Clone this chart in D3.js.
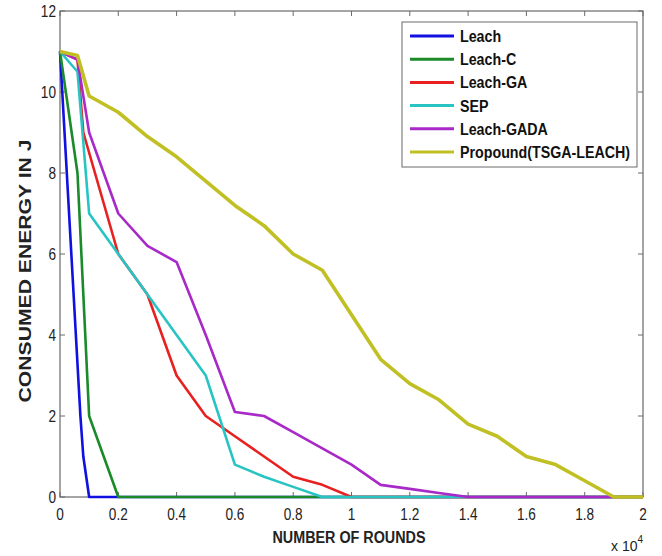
<!DOCTYPE html>
<html>
<head>
<meta charset="utf-8">
<script src="https://cdn.jsdelivr.net/npm/d3@7/dist/d3.min.js"></script>
<style>
  body { margin: 0; background: #fff; }
  svg { display: block; font-family: "Liberation Sans", Arial, sans-serif; }
</style>
</head>
<body>
<svg id="chart" width="662" height="556"></svg>
<script>
// ── Data (rounds in units of 1e4, energy in J) ────────────────────────────
const xTicks = [0, 0.2, 0.4, 0.6, 0.8, 1, 1.2, 1.4, 1.6, 1.8, 2];
const yTicks = [0, 2, 4, 6, 8, 10, 12];

const leach     = [[0,11],[0.07,2],[0.08,1],[0.1,0],[2,0]];
const leachC    = [[0,11],[0.06,8],[0.1,2],[0.2,0],[2,0]];
const leachGA   = [[0,11],[0.06,10.8],[0.08,9],[0.2,6],[0.3,5],[0.4,3],[0.5,2],[0.6,1.5],[0.7,1],[0.8,0.5],[0.9,0.3],[1,0],[2,0]];
const sep       = [[0,11],[0.06,10.5],[0.1,7],[0.2,6],[0.3,5],[0.4,4],[0.5,3],[0.6,0.8],[0.7,0.5],[0.8,0.25],[0.9,0],[2,0]];
const leachGADA = [[0,11],[0.06,10.8],[0.1,9],[0.2,7],[0.3,6.2],[0.4,5.8],[0.5,4],[0.6,2.1],[0.7,2],[0.8,1.6],[0.9,1.2],[1,0.8],[1.1,0.3],[1.2,0.2],[1.3,0.1],[1.4,0],[2,0]];
const propound  = [[0,11],[0.06,10.9],[0.1,9.9],[0.2,9.5],[0.3,8.9],[0.4,8.4],[0.5,7.8],[0.6,7.2],[0.7,6.7],[0.8,6],[0.9,5.6],[1,4.5],[1.1,3.4],[1.2,2.8],[1.3,2.4],[1.4,1.8],[1.5,1.5],[1.6,1],[1.7,0.8],[1.8,0.4],[1.9,0],[2,0]];

const seriesNames  = ['Leach', 'Leach-C', 'Leach-GA', 'SEP', 'Leach-GADA', 'Propound(TSGA-LEACH)'];
const seriesData   = [leach, leachC, leachGA, sep, leachGADA, propound];
const seriesColors = ['#1010e0', '#1a8a2a', '#e82020', '#28c4c4', '#a828c8', '#c0c024'];
const seriesWidths = [2.6, 2.6, 2.6, 2.6, 2.6, 3.6];

// ── Layout ────────────────────────────────────────────────────────────────
const L = 60, R = 643, T = 11, B = 497;
const svg = d3.select('#chart');
const x = d3.scaleLinear().domain([0, 2]).range([L, R]);
const y = d3.scaleLinear().domain([0, 12]).range([B, T]);

// the source image is a bit squeezed sideways, so text is narrowed to match
function condense(sel, k) {
  const n = sel.node();
  sel.attr('textLength', n.getComputedTextLength() * k).attr('lengthAdjust', 'spacingAndGlyphs');
  return sel;
}

// plot frame
svg.append('rect').attr('x', L).attr('y', T).attr('width', R - L).attr('height', B - T)
  .attr('fill', '#fff').attr('stroke', '#6a6a6a').attr('stroke-width', 1.2);

// inward ticks on all four sides
const tk = 5;
xTicks.forEach(v => {
  svg.append('line').attr('x1', x(v)).attr('x2', x(v)).attr('y1', B).attr('y2', B - tk).attr('stroke', '#6a6a6a');
  svg.append('line').attr('x1', x(v)).attr('x2', x(v)).attr('y1', T).attr('y2', T + tk).attr('stroke', '#6a6a6a');
  condense(svg.append('text').attr('x', x(v)).attr('y', B + 23).attr('text-anchor', 'middle')
    .attr('font-size', 17).attr('fill', '#222').text(v), 0.8);
});
yTicks.forEach(v => {
  svg.append('line').attr('x1', L).attr('x2', L + tk).attr('y1', y(v)).attr('y2', y(v)).attr('stroke', '#6a6a6a');
  svg.append('line').attr('x1', R).attr('x2', R - tk).attr('y1', y(v)).attr('y2', y(v)).attr('stroke', '#6a6a6a');
  condense(svg.append('text').attr('x', L - 4).attr('y', y(v) + 6).attr('text-anchor', 'end')
    .attr('font-size', 17).attr('fill', '#222').text(v), 0.8);
});

// series
const line = d3.line().x(d => x(d[0])).y(d => y(d[1]));
seriesData.forEach((d, i) => {
  svg.append('path').datum(d).attr('fill', 'none')
    .attr('stroke', seriesColors[i]).attr('stroke-width', seriesWidths[i])
    .attr('stroke-linejoin', 'round').attr('d', line);
});

// axis labels
svg.append('text').attr('x', 349).attr('y', 543).attr('text-anchor', 'middle')
  .attr('font-size', 16).attr('font-weight', 'bold').attr('fill', '#222')
  .attr('textLength', 153).attr('lengthAdjust', 'spacingAndGlyphs')
  .text('NUMBER OF ROUNDS');
svg.append('text').attr('transform', 'translate(31,271) rotate(-90)').attr('text-anchor', 'middle')
  .attr('font-size', 17).attr('font-weight', 'bold').attr('fill', '#222')
  .attr('textLength', 263).attr('lengthAdjust', 'spacingAndGlyphs')
  .text('CONSUMED ENERGY  IN  J');
const mult = svg.append('text').attr('x', 611).attr('y', 551).attr('font-size', 14).attr('fill', '#222');
mult.append('tspan').text('x 10');
mult.append('tspan').attr('dy', -8).attr('font-size', 10).text('4');

// legend
const lg = svg.append('g');
lg.append('rect').attr('x', 402).attr('y', 22).attr('width', 235).attr('height', 145)
  .attr('fill', '#fff').attr('stroke', '#6a6a6a').attr('stroke-width', 1);
seriesNames.forEach((name, i) => {
  const yy = 36 + i * 23.2;
  lg.append('line').attr('x1', 410).attr('x2', 454).attr('y1', yy).attr('y2', yy)
    .attr('stroke', seriesColors[i]).attr('stroke-width', 3);
  condense(lg.append('text').attr('x', 460).attr('y', yy + 6).attr('font-size', 16)
    .attr('font-weight', 'bold').attr('fill', '#111').text(name), 0.89);
});
</script>
</body>
</html>
